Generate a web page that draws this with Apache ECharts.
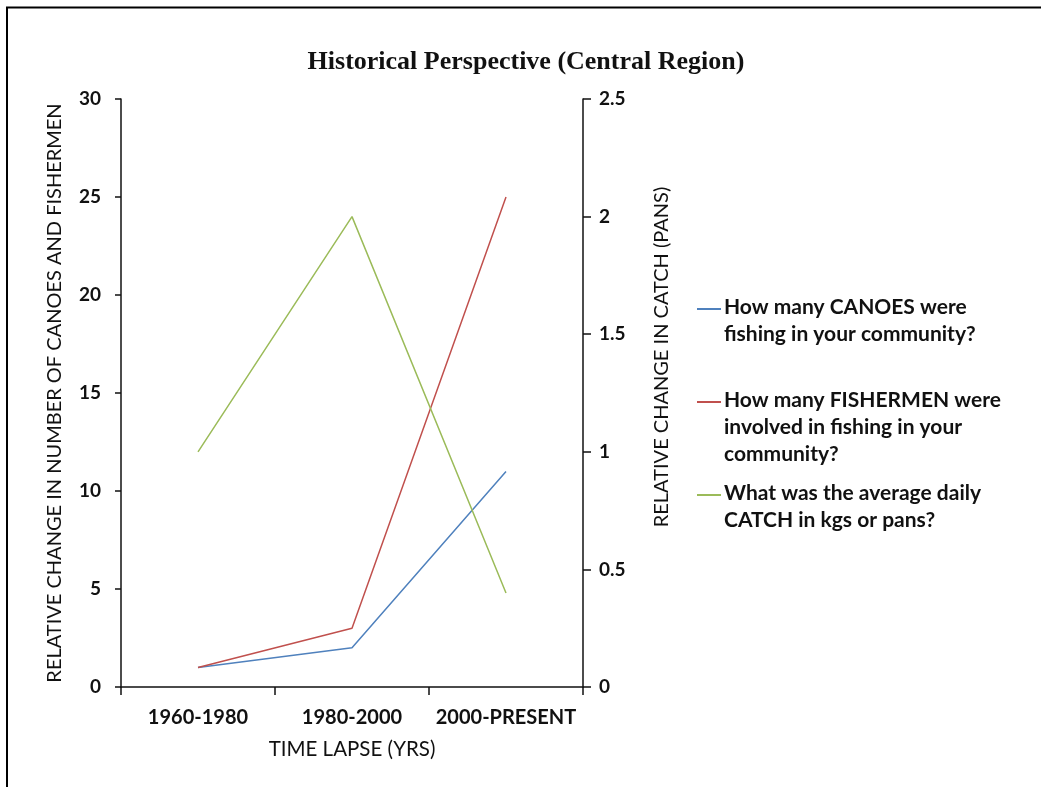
<!DOCTYPE html>
<html>
<head>
<meta charset="utf-8">
<script src="https://cdn.jsdelivr.net/npm/echarts@6/dist/echarts.min.js"></script>
<style>
  html, body { margin: 0; padding: 0; background: #fff; }
  #chart { width: 1041px; height: 787px; }
</style>
</head>
<body>
<div id="chart"></div>
<script>
// data
const categories = ['1960-1980', '1980-2000', '2000-PRESENT']
const canoes = [1, 2, 11]
const fishermen = [1, 3, 25]
const dailyCatch = [1, 2, 0.4]
const seriesNames = [
  'How many CANOES were\nfishing in your community?',
  'How many FISHERMEN were\ninvolved in fishing in your\ncommunity?',
  'What was the average daily\nCATCH in kgs or pans?'
]

const labelFont = 'Lato'
const colors = ['#4f81bd', '#c0504d', '#9bbb59']

// legend marker sits on the first text line, so the icon box is made taller
function legendIcon(h) {
  return 'path://M0,0h24v2h-24z M0,' + h + 'h0.05v0.05h-0.05z'
}

function makeLegend(name, top, h) {
  return {
    data: [name],
    orient: 'vertical',
    left: 697,
    top: top,
    padding: 0,
    icon: legendIcon(h),
    itemWidth: 24,
    itemHeight: h + 2,
    itemGap: 0,
    selectedMode: false,
    textStyle: {
      fontFamily: labelFont,
      fontWeight: 'bold',
      fontSize: 21,
      color: '#111',
      lineHeight: 27,
      padding: [0, 0, 0, -2]
    }
  }
}

let myChart = echarts.init(document.getElementById('chart'))
let option = {
  animation: false,
  color: colors,
  title: {
    text: 'Historical Perspective (Central Region)',
    left: 521,
    textAlign: 'center',
    top: 44,
    textStyle: {
      fontFamily: 'Liberation Serif',
      fontWeight: 'bold',
      fontSize: 26,
      color: '#111'
    }
  },
  legend: [
    makeLegend(seriesNames[0], 294, 26),
    makeLegend(seriesNames[1], 387, 53),
    makeLegend(seriesNames[2], 480, 26)
  ],
  grid: {
    left: 121,
    right: 458,
    top: 99,
    bottom: 100
  },
  xAxis: {
    type: 'category',
    data: categories,
    boundaryGap: true,
    name: 'TIME LAPSE (YRS)',
    nameLocation: 'middle',
    nameGap: 52,
    nameTextStyle: { fontFamily: labelFont, fontSize: 20.5, color: '#111' },
    axisLine: { lineStyle: { color: '#111', width: 1.5 } },
    axisTick: { show: true, interval: 0, length: 8, lineStyle: { color: '#111', width: 1.5 } },
    axisLabel: {
      interval: 0,
      margin: 21,
      fontFamily: labelFont,
      fontWeight: 'bold',
      fontSize: 20,
      color: '#111'
    }
  },
  yAxis: [
    {
      type: 'value',
      min: 0,
      max: 30,
      interval: 5,
      name: 'RELATIVE CHANGE IN NUMBER OF CANOES AND FISHERMEN',
      nameLocation: 'middle',
      nameGap: 56,
      nameTextStyle: { fontFamily: labelFont, fontSize: 20, color: '#111' },
      axisLine: { show: true, lineStyle: { color: '#111', width: 1.5 } },
      axisTick: { show: true, length: 6, lineStyle: { color: '#111', width: 1.5 } },
      splitLine: { show: false },
      axisLabel: {
        margin: 20,
        fontFamily: labelFont,
        fontWeight: 'bold',
        fontSize: 19,
        color: '#111'
      }
    },
    {
      type: 'value',
      position: 'right',
      min: 0,
      max: 2.5,
      interval: 0.5,
      name: 'RELATIVE CHANGE IN CATCH (PANS)',
      nameLocation: 'middle',
      nameGap: 69,
      nameTextStyle: {
        fontFamily: labelFont,
        fontSize: 20,
        color: '#111',
        padding: [0, 0, 0, 72]
      },
      axisLine: { show: true, lineStyle: { color: '#111', width: 1.5 } },
      axisTick: { show: true, length: 8, lineStyle: { color: '#111', width: 1.5 } },
      splitLine: { show: false },
      axisLabel: {
        margin: 16,
        fontFamily: labelFont,
        fontWeight: 'bold',
        fontSize: 19,
        color: '#111'
      }
    }
  ],
  series: [
    {
      name: seriesNames[0],
      type: 'line',
      yAxisIndex: 0,
      symbol: 'none',
      lineStyle: { width: 1.5, color: colors[0] },
      itemStyle: { color: colors[0] },
      data: canoes
    },
    {
      name: seriesNames[1],
      type: 'line',
      yAxisIndex: 0,
      symbol: 'none',
      lineStyle: { width: 1.5, color: colors[1] },
      itemStyle: { color: colors[1] },
      data: fishermen
    },
    {
      name: seriesNames[2],
      type: 'line',
      yAxisIndex: 1,
      symbol: 'none',
      lineStyle: { width: 1.5, color: colors[2] },
      itemStyle: { color: colors[2] },
      data: dailyCatch
    }
  ],
  graphic: [
    // frame edges visible in the picture (top and left only)
    {
      type: 'polyline',
      silent: true,
      shape: { points: [[7, 787], [7, 7.5], [1041, 7.5]] },
      style: { stroke: '#000', lineWidth: 2, fill: null }
    }
  ]
}
myChart.setOption(option)
window.addEventListener('resize', () => {
  myChart.resize()
})
</script>
</body>
</html>
